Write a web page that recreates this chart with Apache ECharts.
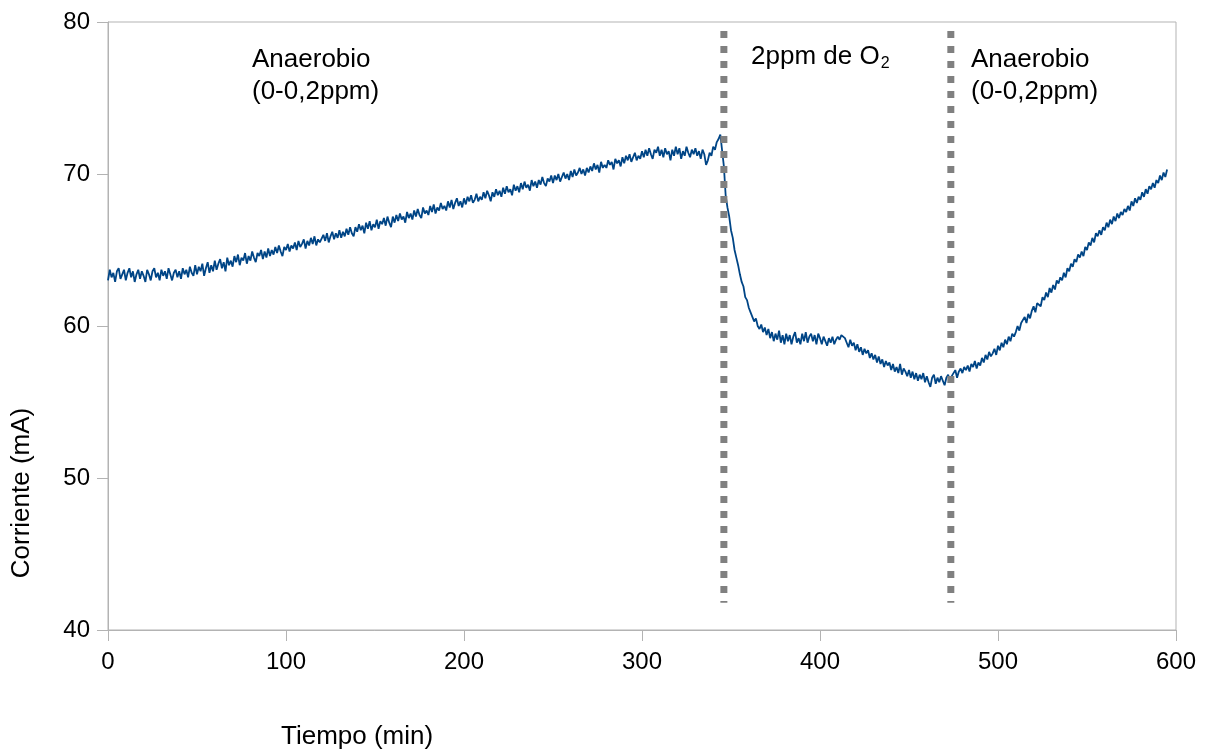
<!DOCTYPE html>
<html>
<head>
<meta charset="utf-8">
<script src="https://cdn.jsdelivr.net/npm/echarts@6/dist/echarts.min.js"></script>
<style>
html,body{margin:0;padding:0;background:#fff;}
#chart{width:1207px;height:751px;}
</style>
</head>
<body>
<div id="chart"></div>
<script>
// Corriente (mA), one reading per minute starting at minute 0
const corrienteMA = [
/*0*/   63.0,63.7,63.2,63.5,62.9,63.6,63.8,63.1,63.4,63.7,
/*10*/  63.0,63.5,63.8,63.2,63.6,62.9,63.4,63.7,63.1,63.6,
/*20*/  63.3,62.9,63.7,63.4,63.0,63.6,63.8,63.2,63.5,63.0,
/*30*/  63.7,63.3,63.6,63.1,63.8,63.4,63.0,63.5,63.7,63.2,
/*40*/  63.6,63.1,63.8,63.4,63.7,63.2,63.9,63.5,63.3,64.0,
/*50*/  63.4,63.9,63.6,64.1,63.3,63.8,64.2,63.5,64.0,63.6,
/*60*/  64.3,63.7,64.1,64.4,63.8,64.2,63.6,64.5,64.0,64.3,
/*70*/  63.9,64.6,64.2,64.7,64.0,64.5,64.3,64.8,64.1,64.6,
/*80*/  64.3,64.9,64.5,64.2,64.8,64.6,65.0,64.4,64.9,64.5,
/*90*/  65.1,64.6,65.0,64.7,65.2,64.8,65.3,64.9,64.6,65.2,
/*100*/ 65.0,65.4,64.9,65.3,65.1,65.5,65.0,65.6,65.2,65.4,
/*110*/ 65.7,65.1,65.6,65.3,65.8,65.4,65.9,65.3,65.7,65.5,
/*120*/ 65.4,66.0,65.6,66.1,65.5,65.9,66.2,65.7,66.1,65.8,
/*130*/ 66.3,65.8,66.2,65.9,66.4,66.0,66.5,66.1,65.9,66.5,
/*140*/ 66.2,66.7,66.3,66.6,66.1,66.8,66.4,66.9,66.3,66.7,
/*150*/ 66.5,67.0,66.4,66.9,66.7,67.1,66.6,67.2,66.8,66.5,
/*160*/ 67.2,66.8,67.3,66.9,67.4,67.0,67.2,66.8,67.5,67.1,
/*170*/ 67.4,67.0,67.6,67.2,67.7,67.3,67.1,67.8,67.4,67.6,
/*180*/ 67.3,67.9,67.5,68.0,67.4,67.8,67.6,68.1,67.7,67.9,
/*190*/ 67.6,68.2,67.8,68.3,67.7,68.1,68.4,67.9,68.2,67.8,
/*200*/ 68.4,68.0,68.5,68.2,68.6,68.1,68.3,68.7,68.2,68.5,
/*210*/ 68.3,68.8,68.4,68.9,68.6,68.2,68.8,68.5,69.0,68.6,
/*220*/ 68.9,68.5,69.1,68.7,69.2,68.8,69.0,68.6,69.3,68.9,
/*230*/ 69.2,68.8,69.4,69.0,69.5,69.1,69.3,68.9,69.6,69.2,
/*240*/ 69.5,69.1,69.6,69.3,69.8,69.4,69.2,69.7,69.5,69.9,
/*250*/ 69.4,69.9,69.6,70.0,69.5,69.8,70.1,69.7,70.0,69.6,
/*260*/ 70.2,69.8,70.3,69.9,70.1,70.4,70.0,70.3,69.9,70.4,
/*270*/ 70.1,70.5,70.2,70.7,70.3,70.6,70.1,70.8,70.4,70.6,
/*280*/ 70.4,70.9,70.6,70.8,70.3,71.0,70.7,70.9,70.5,71.1,
/*290*/ 70.7,71.2,70.9,71.3,70.8,71.1,71.4,70.9,71.2,71.0,
/*300*/ 71.5,71.1,71.6,71.2,71.7,71.3,71.0,71.6,71.4,71.8,
/*310*/ 71.2,71.6,71.1,71.7,71.3,71.5,70.9,71.6,71.2,71.8,
/*320*/ 71.3,71.7,71.0,71.5,71.2,71.8,71.4,71.1,71.6,71.3,
/*330*/ 71.7,71.2,71.5,71.0,71.6,71.3,70.6,70.9,71.4,71.2,
/*340*/ 71.8,71.6,72.1,72.3,72.6,72.5,
/*346*/ 70.5,68.6,67.8,67.2,66.3,65.8,65.0,64.5,64.0,63.4,62.9,62.6,61.9,61.7,61.2,60.9,60.6,
/*363*/ 60.3,60.5,60.0,59.8,60.1,59.6,59.9,
/*370*/ 59.4,59.8,59.2,59.6,59.0,59.5,59.1,59.7,58.9,59.4,
/*380*/ 58.8,59.5,59.0,59.4,58.8,59.3,59.6,58.9,59.2,58.8,
/*390*/ 59.5,59.0,59.6,58.9,59.3,59.5,59.0,59.4,58.8,59.5,
/*400*/ 59.2,58.8,59.3,59.0,58.7,59.2,58.9,59.3,58.8,59.1,
/*410*/ 59.3,59.1,59.4,59.3,59.2,58.9,58.6,59.1,58.7,58.9,
/*420*/ 58.4,58.8,58.3,58.6,58.1,58.5,58.2,58.4,57.9,58.2,
/*430*/ 57.8,58.1,57.6,58.0,57.5,57.8,57.3,57.7,57.4,57.6,
/*440*/ 57.1,57.5,57.0,57.3,56.9,57.5,56.8,57.2,57.0,56.7,
/*450*/ 57.1,56.6,57.0,56.5,56.9,56.4,56.8,56.5,56.9,56.3,
/*460*/ 56.7,56.3,56.0,56.6,56.8,56.2,56.6,56.3,56.7,56.4,
/*470*/ 56.1,56.6,56.8,56.3,56.7,56.9,57.1,56.6,57.0,57.2,
/*480*/ 56.9,57.3,57.1,57.4,57.0,57.5,57.3,57.7,57.2,57.6,
/*490*/ 57.4,57.9,57.6,58.1,57.8,58.3,58.0,58.2,58.5,58.1,
/*500*/ 58.7,58.4,58.9,58.6,59.1,58.8,59.3,59.0,59.5,59.3,
/*510*/ 59.6,60.0,59.7,60.2,60.3,60.6,60.2,60.8,60.5,61.0,
/*520*/ 61.3,60.9,61.5,61.6,61.3,61.9,61.7,62.2,61.9,62.5,
/*530*/ 62.2,62.7,62.4,63.0,62.8,63.2,63.0,63.5,63.2,63.8,
/*540*/ 63.6,64.1,63.9,64.4,64.2,64.7,64.5,64.9,64.6,65.2,
/*550*/ 65.0,65.5,65.3,65.8,65.5,66.1,65.9,66.3,66.0,66.5,
/*560*/ 66.3,66.8,66.5,67.0,66.7,67.2,66.9,67.4,67.1,67.5,
/*570*/ 67.3,67.7,67.5,67.9,67.6,68.2,67.9,68.4,68.1,68.5,
/*580*/ 68.3,68.8,68.5,69.0,68.7,69.2,69.0,69.4,69.1,69.6,
/*590*/ 69.4,69.9,69.6,70.1,69.8,70.3
];
// Phase boundaries (min) and the vertical span of the dotted markers (mA)
const phaseChanges = [346, 473.5];
const markerTop = 79.4;
const markerBottom = 41.8;
// Axis ranges / ticks
const xTicks = [0, 100, 200, 300, 400, 500, 600];
const yTicks = [40, 50, 60, 70, 80];
// Text
const xTitle = 'Tiempo (min)';
const yTitle = 'Corriente (mA)';
const phaseLabels = ['Anaerobio\n(0-0,2ppm)', '2ppm de O', 'Anaerobio\n(0-0,2ppm)'];

const FONT = '"Liberation Sans", Arial, sans-serif';
const chart = echarts.init(document.getElementById('chart'), null, {renderer: 'canvas'});

const lineData = corrienteMA.map((v, minute) => [minute, v]);

const markerSeries = phaseChanges.map(t => ({
  type: 'line',
  data: [[t, markerTop], [t, markerBottom]],
  showSymbol: false,
  silent: true,
  z: 5,
  lineStyle: {color: '#808080', width: 7, type: [7, 8], cap: 'butt'}
}));

chart.setOption({
  animation: false,
  backgroundColor: '#ffffff',
  textStyle: {fontFamily: FONT},
  grid: {left: 108, right: 31, top: 22, bottom: 121, show: true, borderColor: '#b3b3b3', borderWidth: 1, backgroundColor: 'transparent'},
  xAxis: {
    type: 'value', min: xTicks[0], max: xTicks[xTicks.length - 1], interval: 100,
    axisLine: {show: true, lineStyle: {color: '#b3b3b3', width: 1}},
    axisTick: {show: true, length: 11, lineStyle: {color: '#b3b3b3'}},
    splitLine: {show: false},
    axisLabel: {color: '#000', fontSize: 24, margin: 20, fontFamily: FONT}
  },
  yAxis: {
    type: 'value', min: yTicks[0], max: yTicks[yTicks.length - 1], interval: 10,
    axisLine: {show: true, lineStyle: {color: '#b3b3b3', width: 1}},
    axisTick: {show: true, length: 11, lineStyle: {color: '#b3b3b3'}},
    splitLine: {show: false},
    axisLabel: {color: '#000', fontSize: 24, margin: 18, fontFamily: FONT}
  },
  graphic: [
    {type: 'text', left: 252, top: 44, style: {text: phaseLabels[0], font: '26px ' + FONT, fill: '#000', lineHeight: 32}},
    {type: 'text', left: 751, top: 44, style: {
      text: '{m|' + phaseLabels[1] + '}{s|2}',
      rich: {m: {font: '26px ' + FONT, fill: '#000', lineHeight: 32}, s: {font: '16px ' + FONT, fill: '#000', padding: [14, 0, 0, 1]}},
      fill: '#000'
    }},
    {type: 'text', left: 971, top: 44, style: {text: phaseLabels[2], font: '26px ' + FONT, fill: '#000', lineHeight: 32}},
    {type: 'text', left: 281, top: 724, style: {text: xTitle, font: '26px ' + FONT, fill: '#000'}},
    {type: 'text', x: 22, y: 493, rotation: Math.PI / 2, style: {text: yTitle, font: '26px ' + FONT, fill: '#000', align: 'center', verticalAlign: 'middle'}}
  ],
  series: [
    {
      type: 'line',
      data: lineData,
      showSymbol: false,
      z: 3,
      lineStyle: {color: '#004586', width: 1.8}
    }
  ].concat(markerSeries)
});
</script>
</body>
</html>
